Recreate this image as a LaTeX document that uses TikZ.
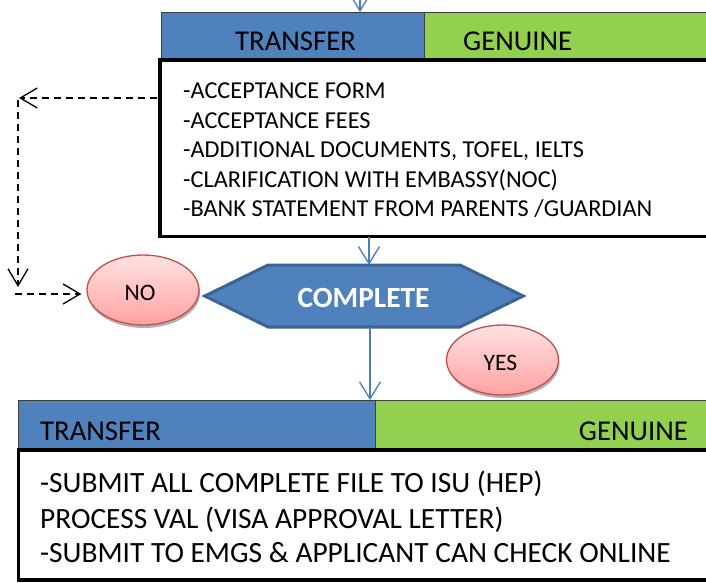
\documentclass[tikz,border=0pt]{standalone}
\usepackage{fontspec}
\setmainfont{Carlito}
\usetikzlibrary{arrows.meta,shapes.geometric,shadows}
\definecolor{hdrblue}{HTML}{4F81BD}
\definecolor{hdrgreen}{HTML}{92D050}
\definecolor{hexborder}{HTML}{3A6496}
\definecolor{linkblue}{HTML}{4A7EBB}
\definecolor{ovlight}{HTML}{FFE2E2}
\definecolor{ovdark}{HTML}{FFA2A2}
\definecolor{ovborder}{HTML}{C0504D}
\tikzset{
  hdrbox/.style={rectangle, draw=black!75, line width=1pt, inner sep=0pt, outer sep=0pt},
  bodybox/.style={rectangle, draw=black, fill=white, line width=3.5pt, inner sep=0pt, outer sep=0pt},
  hdrtext/.style={inner sep=0pt, font=\fontsize{28.7}{33}\selectfont},
  toptext/.style={inner sep=0pt, anchor=base west, font=\fontsize{24.3}{29}\selectfont},
  bottext/.style={inner sep=0pt, anchor=base west, font=\fontsize{29.4}{35}\selectfont},
  oval/.style={ellipse, draw=ovborder, line width=1.3pt, top color=ovlight, bottom color=ovdark,
    minimum width=112pt, minimum height=70pt, inner sep=0pt,
    drop shadow={shadow xshift=1pt, shadow yshift=-3pt, opacity=0.3, fill=black}},
  ovaltext/.style={inner sep=0pt, anchor=base, font=\fontsize{23.6}{28}\selectfont},
  bluelink/.style={draw=linkblue, line width=1.3pt, -{Straight Barb[length=17pt, width=21pt]}},
  dashlink/.style={draw=black, line width=1.3pt, dash pattern=on 7pt off 5pt,
    -{Straight Barb[length=17pt, width=20pt]}},
}
\begin{document}
\begin{tikzpicture}[x=1pt, y=-1pt]
\useasboundingbox (0,0) rectangle (706,582);
\clip (0,0) rectangle (706,582);

% top section
\node[hdrbox, fill=hdrblue, minimum width=263pt, minimum height=48pt] (th) at (292.5,36) {};
\node[hdrbox, fill=hdrgreen, minimum width=288pt, minimum height=48pt] (tg) at (568,36) {};
\node[hdrtext, anchor=base west] (tht) at (235,50) {TRANSFER};
\node[hdrtext, anchor=base west] (tgt) at (463,50) {GENUINE};
\node[bodybox, minimum width=552pt, minimum height=176.5pt] (tb) at (436,148.25) {};
\node[toptext] (l1) at (183,98) {-ACCEPTANCE FORM};
\node[toptext] (l2) at (183,128) {-ACCEPTANCE FEES};
\node[toptext] (l3) at (183,157.5) {-ADDITIONAL DOCUMENTS, TOFEL, IELTS};
\node[toptext] (l4) at (183,187) {-CLARIFICATION WITH EMBASSY(NOC)};
\node[toptext] (l5) at (183,216) {-BANK STATEMENT FROM PARENTS /GUARDIAN};

% decision
\node[minimum width=318pt, minimum height=62pt, inner sep=0pt] (hex) at (364,296) {};
\filldraw[fill=hdrblue, draw=hexborder, line width=3pt, line join=miter]
  (hex.west) -- (268,265) -- (460,265) -- (hex.east) -- (460,327) -- (268,327) -- cycle;
\node[inner sep=0pt, anchor=base, text=white, font=\fontsize{29.3}{34}\selectfont\bfseries] (hext) at (363.5,307) {COMPLETE};

\node[oval] (no) at (143,290) {};
\node[ovaltext] (not) at (140,300) {NO};
\node[oval] (yes) at (502.5,360) {};
\node[ovaltext] (yest) at (500.5,370) {YES};

% bottom section
\node[hdrbox, fill=hdrblue, minimum width=357pt, minimum height=50pt] (bh) at (196.5,425) {};
\node[hdrbox, fill=hdrgreen, minimum width=337pt, minimum height=50pt] (bg) at (543.5,425) {};
\node[hdrtext, anchor=base west] (bht) at (40,440) {TRANSFER};
\node[hdrtext, anchor=base east] (bgt) at (688,440) {GENUINE};
\node[bodybox, minimum width=693.5pt, minimum height=130pt] (bb) at (365.25,515) {};
\node[bottext] (m1) at (40,492) {-SUBMIT ALL COMPLETE FILE TO ISU (HEP)};
\node[bottext] (m2) at (40,528) {PROCESS VAL (VISA APPROVAL LETTER)};
\node[bottext] (m3) at (40,562) {-SUBMIT TO EMGS \& APPLICANT CAN CHECK ONLINE};

% connectors
\coordinate (topin) at (360,-2);
\draw[bluelink] (topin) -- (topin |- th.north);
\coordinate (midx) at (369,0);
\draw[bluelink] (midx |- tb.south) -- (midx |- hex.north);
\coordinate (lowx) at (370,0);
\draw[bluelink] (lowx |- hex.south) -- (lowx |- bh.north);

\coordinate (d1) at (19,98);
\coordinate (d2) at (18,100);
\coordinate (d3) at (18,287);
\coordinate (d4) at (15,294);
\draw[dashlink] ([xshift=-3pt]tb.west |- d1) -- (d1);
\draw[dashlink] (d2) -- (d3);
\draw[dashlink] (d4) -- ([xshift=-5pt]d4 -| no.west);
\end{tikzpicture}
\end{document}
